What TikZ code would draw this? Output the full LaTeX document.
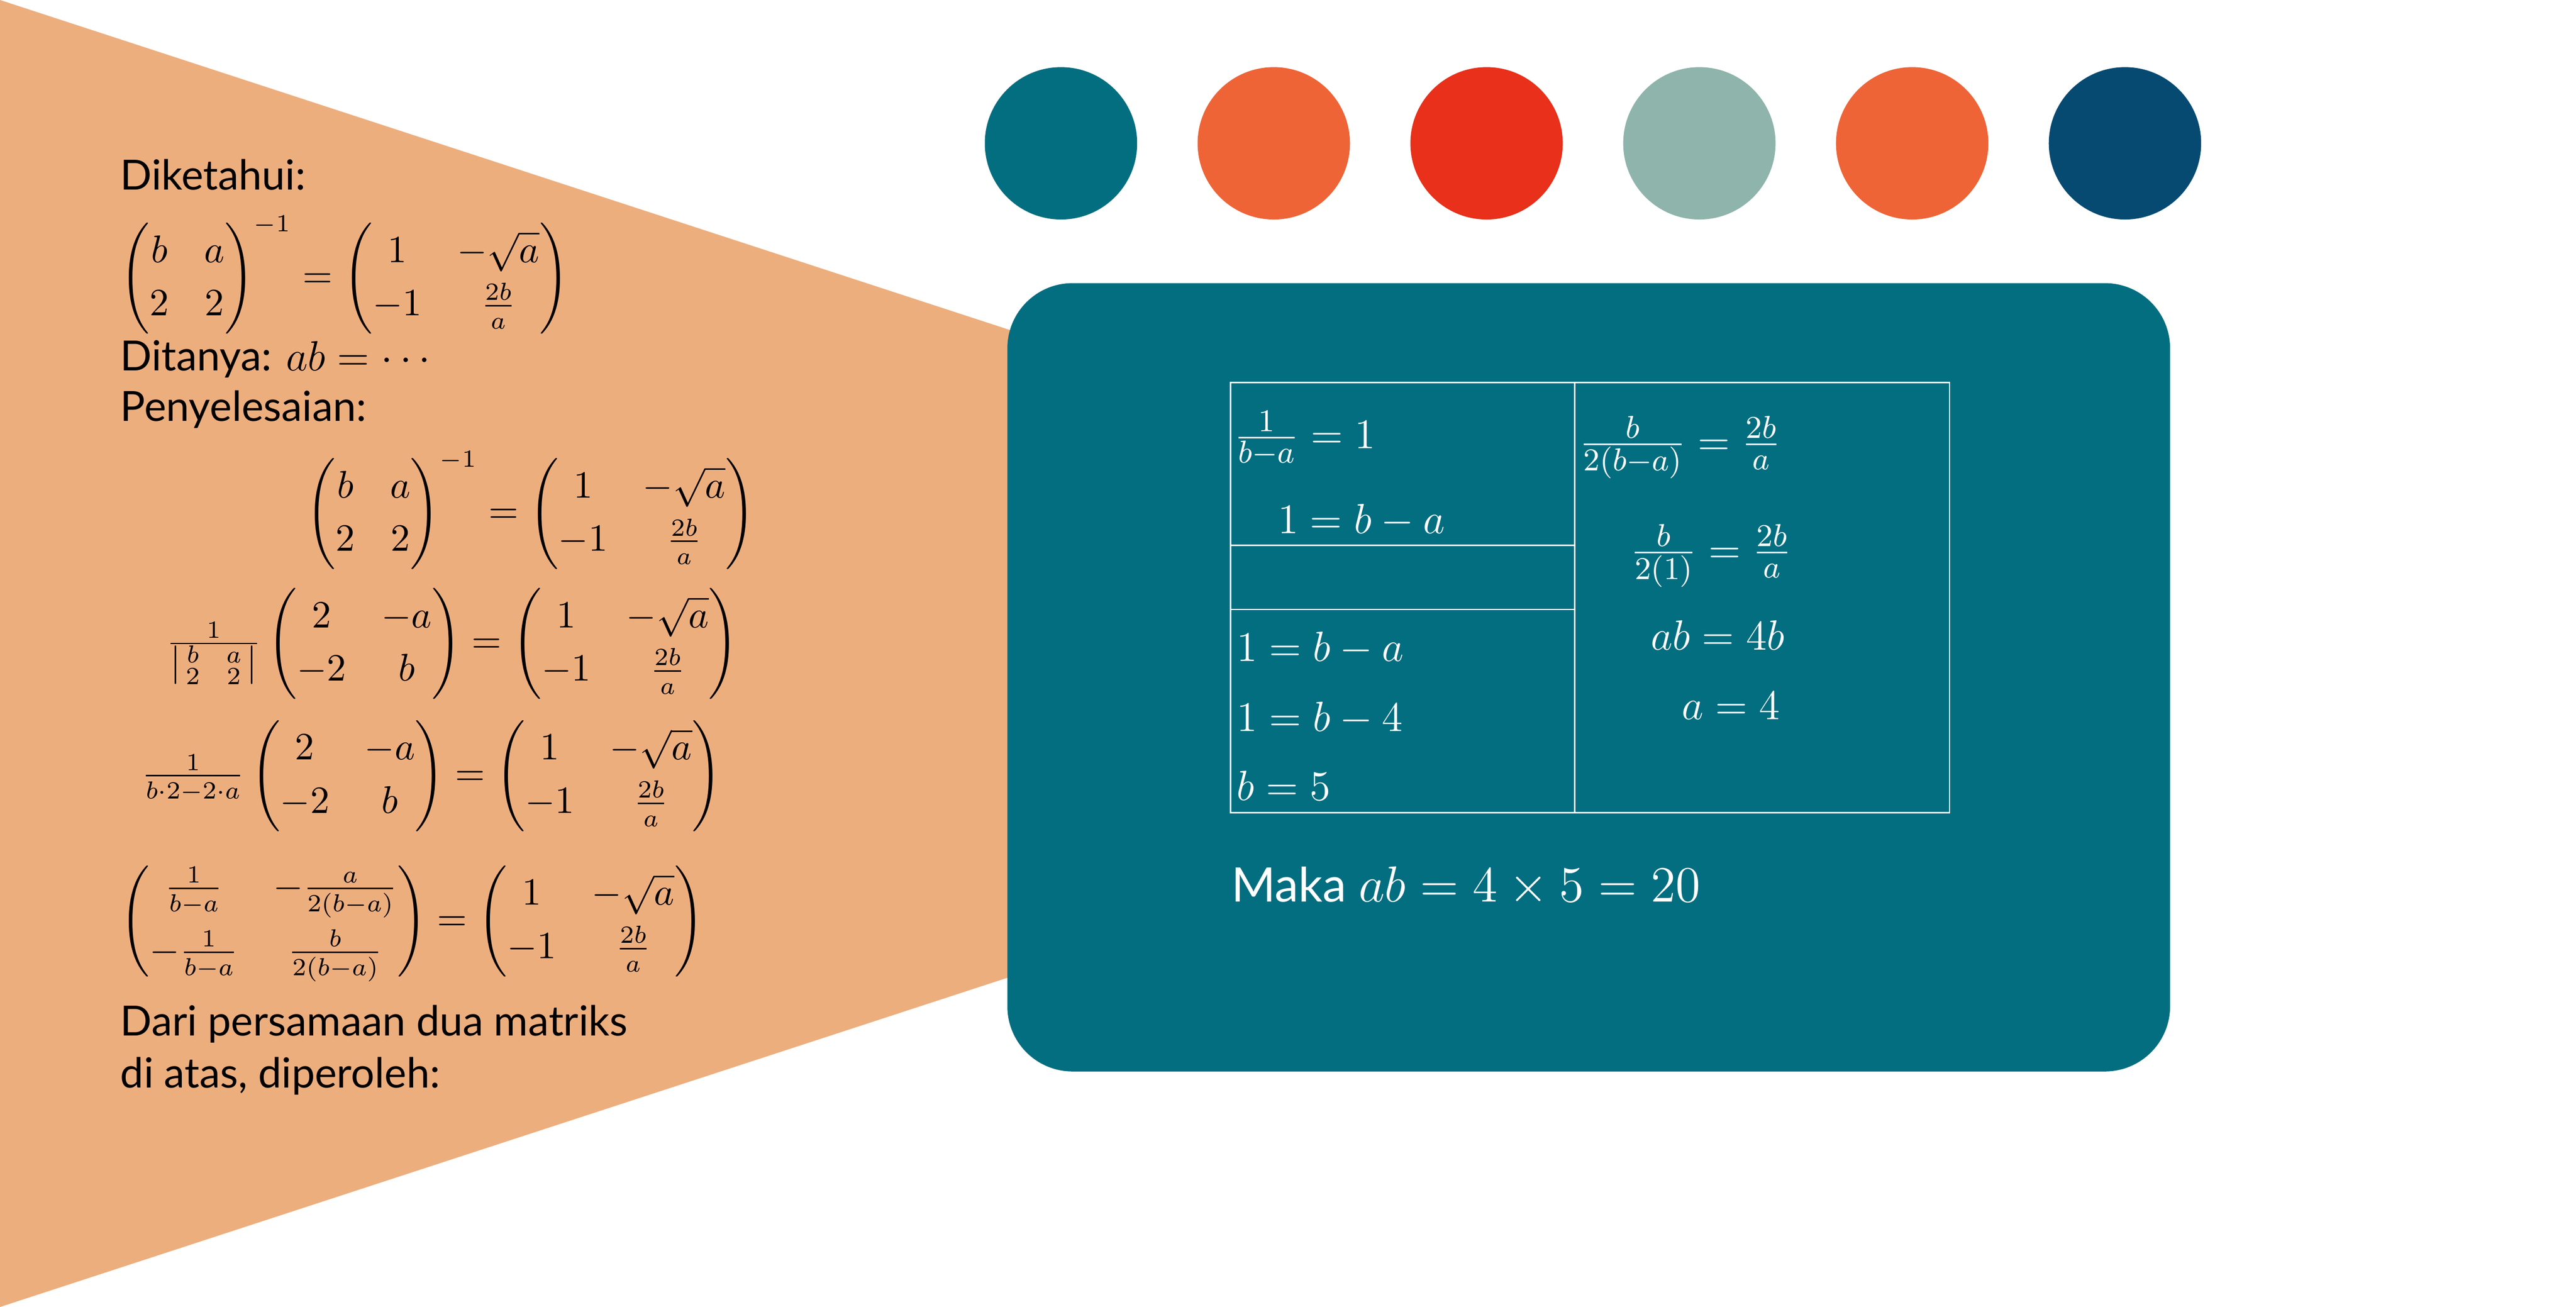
\documentclass[tikz,border=0pt]{standalone}
\usepackage{amsmath}
\usepackage{amssymb}
\usepackage[no-math]{fontspec}
\usepackage{tikz}
\newfontfamily\handfont{Lato}
\definecolor{peach}{HTML}{EDAE7E}
\definecolor{boxteal}{HTML}{036E80}
\definecolor{dotorange}{HTML}{EE6437}
\definecolor{dotred}{HTML}{E8301A}
\definecolor{dotsage}{HTML}{8FB4AB}
\definecolor{dotnavy}{HTML}{064A72}
\renewcommand{\arraystretch}{1.2}
\tikzset{
  hand/.style={font=\handfont\fontsize{11.8}{14}\selectfont, inner sep=0pt},
  leftmath/.style={font=\fontsize{10.5}{12.6}\selectfont, inner sep=0pt},
  tabmath/.style={text=white, font=\fontsize{12.8}{15}\selectfont, inner sep=0pt}
}

\begin{document}
\begin{tikzpicture}
    \useasboundingbox (0,0) rectangle (25.7,13.04);
    \fill[peach] (0,13.04) -- (19.95,6.52) -- (0,0) -- cycle;
    \foreach \c [count=\i from 0] in {boxteal,dotorange,dotred,dotsage,dotorange,dotnavy}
    {
      \fill[\c] (10.585+2.123*\i,11.61) circle (0.76);
    }
    \fill[boxteal, rounded corners=0.65cm] (10.05,2.35) rectangle (21.65,10.215);
    \begin{scope}
      \node[hand, anchor=base west] (known) at (1.195,11.145) {Diketahui:};
      \node[leftmath, anchor=west] (eqone) at (1.195,10.3)
        {$\begin{pmatrix} b & a\\ 2 & 2\end{pmatrix}^{-1} = \begin{pmatrix} 1 & -\sqrt{a}\\ -1 & \frac{2b}{a}\end{pmatrix}$};
      \node[hand, anchor=base west] (asked) at (1.195,9.34) {Ditanya: $ab = \cdots$};
      \node[hand, anchor=base west] (solve) at (1.195,8.84) {Penyelesaian:};
      \node[leftmath, anchor=west] (eqtwo) at (3.05,7.95)
        {$\begin{pmatrix} b & a\\ 2 & 2\end{pmatrix}^{-1} = \begin{pmatrix} 1 & -\sqrt{a}\\ -1 & \frac{2b}{a}\end{pmatrix}$};
      \node[leftmath, anchor=west] (eqthree) at (1.65,6.62)
        {$\frac{1}{\left|\begin{smallmatrix} b & \;\; a\\ 2 & \;\; 2\end{smallmatrix}\right|}\begin{pmatrix} 2 & -a\\ -2 & b\end{pmatrix} = \begin{pmatrix} 1 & -\sqrt{a}\\ -1 & \frac{2b}{a}\end{pmatrix}$};
      \node[leftmath, anchor=west] (eqfour) at (1.405,5.3)
        {$\frac{1}{b\cdot 2-2\cdot a}\begin{pmatrix} 2 & -a\\ -2 & b\end{pmatrix} = \begin{pmatrix} 1 & -\sqrt{a}\\ -1 & \frac{2b}{a}\end{pmatrix}$};
      \node[leftmath, anchor=west] (eqfive) at (1.195,3.85)
        {$\begin{pmatrix} \frac{1}{b-a} & -\frac{a}{2(b-a)}\\[3pt] -\frac{1}{b-a} & \frac{b}{2(b-a)}\end{pmatrix} = \begin{pmatrix} 1 & -\sqrt{a}\\ -1 & \frac{2b}{a}\end{pmatrix}$};
      \node[hand, anchor=base west] (fromone) at (1.195,2.705) {Dari persamaan dua matriks};
      \node[hand, anchor=base west] (fromtwo) at (1.195,2.185) {di atas, diperoleh:};
    \end{scope}
    \begin{scope}[white, line width=0.4pt]
      \draw (12.275,4.93) rectangle (19.45,9.225);
      \draw (15.71,4.93) -- (15.71,9.225);
      \draw (12.275,7.60) -- (15.71,7.60);
      \draw (12.275,6.96) -- (15.71,6.96);
      \node[tabmath, anchor=west] (cellone) at (12.305,8.665) {$\tfrac{1}{b-a} = 1$};
      \node[tabmath, anchor=base west] (celltwo) at (12.74,7.72) {$1 = b - a$};
      \node[tabmath, anchor=base west] (cellthree) at (12.33,6.445) {$1 = b - a$};
      \node[tabmath, anchor=base west] (cellfour) at (12.33,5.745) {$1 = b - 4$};
      \node[tabmath, anchor=base west] (cellfive) at (12.33,5.055) {$b = 5$};
      \node[tabmath, anchor=west] (rightone) at (15.75,8.575) {$\tfrac{b}{2(b-a)} = \tfrac{2b}{a}$};
      \node[tabmath, anchor=west] (righttwo) at (16.26,7.495) {$\tfrac{b}{2(1)} = \tfrac{2b}{a}$};
      \node[tabmath, anchor=base west] (rightthree) at (16.465,6.555) {$ab = 4b$};
      \node[tabmath, anchor=base west] (rightfour) at (16.77,5.86) {$a = 4$};
      \node[hand, text=white, anchor=base west, font=\handfont\fontsize{13.5}{16}\selectfont] (result) at (12.28,4.04) {Maka $ab = 4 \times 5 = 20$};
    \end{scope}
\end{tikzpicture}
\end{document}
